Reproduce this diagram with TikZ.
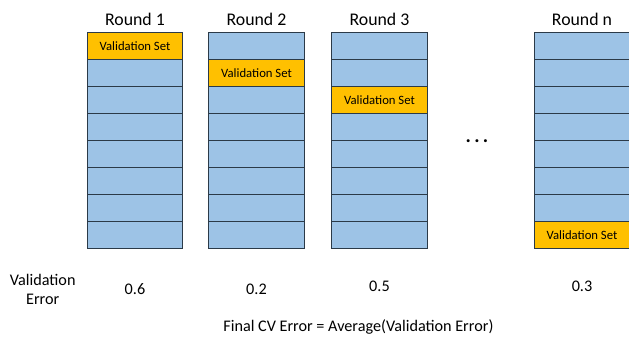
\documentclass[tikz,border=0pt]{standalone}
\usepackage{fontspec}
\setmainfont{Carlito}
\usetikzlibrary{positioning}
\definecolor{foldblue}{HTML}{9DC3E6}
\definecolor{valorange}{HTML}{FFC000}
\definecolor{foldline}{HTML}{2B3A48}
\tikzset{
  fold/.style={draw=foldline, line width=1pt, fill=foldblue, minimum width=95.4pt, minimum height=27.06pt, inner sep=0pt, outer sep=0pt, font=\fontsize{12.7}{14}\selectfont},
  valset/.style={fold, fill=valorange},
  roundtitle/.style={font=\fontsize{17.8}{20}\selectfont, anchor=base},
  errval/.style={font=\fontsize{16.2}{19}\selectfont, anchor=base}
}
\begin{document}
\begin{tikzpicture}[x=1pt, y=-1pt]
\useasboundingbox[fill=white] (0,0) rectangle (629,339);

% one column of eight folds per round, the held-out fold in orange
\foreach \c/\x/\v in {1/135/1, 2/256.5/2, 3/379.5/3, n/582/8}{
  \foreach \r in {1,...,8}{
    \ifnum\r=\v
      \node[valset] (fold\c_\r) at (\x, {32.5+27.06*(\r-0.5)}) {Validation Set};
    \else
      \node[fold] (fold\c_\r) at (\x, {32.5+27.06*(\r-0.5)}) {};
    \fi
  }
  \node[roundtitle] (round\c) at (\x, 26) {Round \c};
}

\node[font=\fontsize{20}{24}\selectfont\bfseries, anchor=base] (dots) at (477, 142.5) {.\,.\,.};

% errors per round
\node[errval, align=center] (errlabel) at (42.7, 304) {Validation\\Error};
\foreach \c/\e/\y in {1/0.6/294, 2/0.2/294, 3/0.5/291, n/0.3/291}
  \node[errval] (err\c) at (fold\c_8.south |- 0,\y) {\e};

\node[errval] (cverr) at (358.4, 331.7) {Final CV Error = Average(Validation Error)};
\end{tikzpicture}
\end{document}
